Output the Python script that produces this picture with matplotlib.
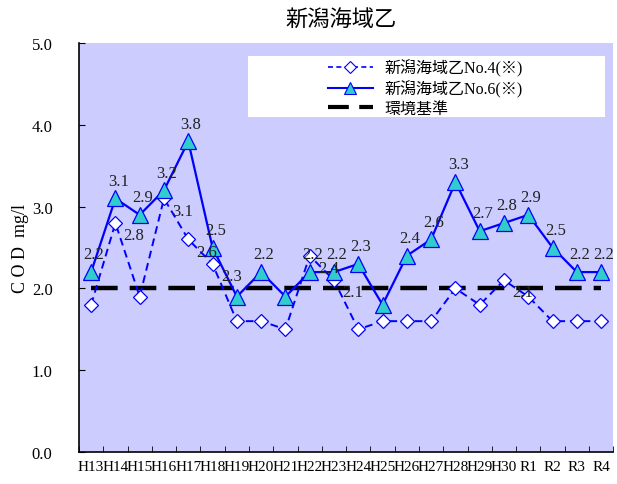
import matplotlib.pyplot as plt
from matplotlib.lines import Line2D
from matplotlib.patches import Rectangle

plt.rcParams['font.family'] = ['Liberation Serif', 'Noto Sans CJK JP']

# data
years = ['H13', 'H14', 'H15', 'H16', 'H17', 'H18', 'H19', 'H20', 'H21', 'H22', 'H23',
         'H24', 'H25', 'H26', 'H27', 'H28', 'H29', 'H30', 'R1', 'R2', 'R3', 'R4']
no4 = [1.8, 2.8, 1.9, 3.1, 2.6, 2.3, 1.6, 1.6, 1.5, 2.4, 2.1,
       1.5, 1.6, 1.6, 1.6, 2.0, 1.8, 2.1, 1.9, 1.6, 1.6, 1.6]
no6 = [2.2, 3.1, 2.9, 3.2, 3.8, 2.5, 1.9, 2.2, 1.9, 2.2, 2.2,
       2.3, 1.8, 2.4, 2.6, 3.3, 2.7, 2.8, 2.9, 2.5, 2.2, 2.2]
standard = 2.0
yticks = [0.0, 1.0, 2.0, 3.0, 4.0, 5.0]

x = list(range(len(years)))

fig = plt.figure(figsize=(6.17, 4.85), dpi=100)
ax = fig.add_axes([0.128, 0.066, 0.866, 0.843])
ax.set_facecolor('#ccccff')

# environmental standard
ax.plot([x[0], x[-1]], [standard, standard], color='black', lw=3.2,
        dashes=(6, 2.7), zorder=2)

# No.4 - dashed with white diamonds
ax.plot(x, no4, color='#0000ff', lw=1.4, ls=(0, (4, 2.5)), marker='D',
        markersize=7, markerfacecolor='white', markeredgecolor='#0000ff',
        markeredgewidth=0.9, zorder=3)
# No.6 - solid with cyan triangles
ax.plot(x, no6, color='#0000ff', lw=1.6, marker='^', markersize=11,
        markerfacecolor='#33cccc', markeredgecolor='#0000ff',
        markeredgewidth=0.9, zorder=4)

# data labels only where the standard is exceeded
for i, v in enumerate(no6):
    if v > standard:
        ax.annotate(f'{v:.1f}', (i, v), xytext=(2, 7), textcoords='offset points',
                    ha='center', va='bottom', fontsize=12, color='#222222', zorder=5)
for i, v in enumerate(no4):
    if v > standard:
        ax.annotate(f'{v:.1f}', (i, v), xytext=(6, -3), textcoords='offset points',
                    ha='left', va='top', fontsize=12, color='#222222', zorder=5)

ax.set_xlim(-0.5, len(years) - 0.5)
ax.set_ylim(0, 5)
ax.set_yticks(yticks)
ax.set_yticklabels([f'{t:.1f}' for t in yticks], fontsize=12)
ax.set_xticks(x)
ax.set_xticklabels(years, fontsize=11)
ax.set_xticks([i - 0.5 for i in range(len(years) + 1)], minor=True)
ax.tick_params(axis='x', which='major', length=0, pad=6)
ax.tick_params(axis='x', which='minor', direction='in', length=4)
ax.tick_params(axis='y', direction='in', length=4, pad=19)
for s in ['top', 'right']:
    ax.spines[s].set_visible(False)
for s in ['left', 'bottom']:
    ax.spines[s].set_linewidth(1.2)

ax.set_ylabel('C O D  mg/l', fontsize=13, labelpad=2)
fig.text(0.553, 0.96, '新潟海域乙', ha='center', va='center', fontsize=16,
         family=['Noto Sans CJK JP'])

# white legend box
ax.add_patch(Rectangle((0.316, 0.819), 0.669, 0.149, transform=ax.transAxes,
                       facecolor='white', edgecolor='none', zorder=6))
handles = [
    Line2D([], [], color='#0000ff', lw=1.2, ls=(0, (3, 2)), marker='D', markersize=6,
           markerfacecolor='white', markeredgecolor='#0000ff', markeredgewidth=0.8),
    Line2D([], [], color='#0000ff', lw=1.5, marker='^', markersize=9,
           markerfacecolor='#33cccc', markeredgecolor='#0000ff', markeredgewidth=0.8),
    Line2D([], [], color='black', lw=3, dashes=(5, 2.5)),
]
labels = ['新潟海域乙No.4(※)', '新潟海域乙No.6(※)', '環境基準']
leg = ax.legend(handles, labels, loc='upper left', bbox_to_anchor=(0.466, 0.962),
                fontsize=11.5, frameon=False, borderpad=0, labelspacing=0.22,
                handlelength=2.8, handletextpad=0.75, borderaxespad=0)
leg.set_zorder(7)
for t in leg.get_texts():
    t.set_family(['Liberation Serif', 'Noto Sans CJK JP'])

fig.savefig('out.png', dpi=100)
